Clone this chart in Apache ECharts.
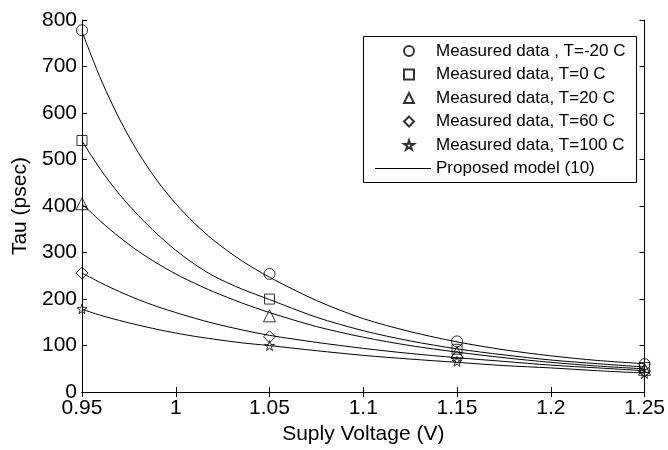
<!DOCTYPE html>
<html>
<head>
<meta charset="utf-8">
<script src="https://cdn.jsdelivr.net/npm/echarts@6/dist/echarts.min.js"></script>
<style>html,body{margin:0;padding:0;background:#fff;}#c{width:668px;height:450px;}</style>
</head>
<body>
<div id="c"></div>
<script>
// Measured data
const measV = [0.95, 1.05, 1.15, 1.25];
const measM20 = [778, 254, 109, 60];
const meas0 = [541, 200, 92, 53];
const meas20 = [405, 164, 85, 49];
const meas60 = [256, 119, 75, 45];
const meas100 = [179, 100, 66, 40];
// Proposed model curves
const modelV = [0.95, 0.96, 0.97, 0.98, 0.99, 1.0, 1.01, 1.02, 1.035, 1.05, 1.075, 1.1, 1.125, 1.15, 1.175, 1.2, 1.225, 1.25];
const modelM20 = [775, 673, 587, 515, 455, 405, 363, 327, 283, 247, 197, 158, 130, 108, 91, 78, 68, 61];
const model0 = [540, 478, 425, 380, 340, 305, 275, 250, 222, 199, 161, 132, 110, 93, 80, 69, 61, 54];
const model20 = [405, 367, 333, 303, 277, 254, 234, 216, 192, 171, 141, 118, 100, 86, 74, 64, 56, 50];
const model60 = [256, 235, 216, 199, 184, 171, 159, 148, 134, 122, 107, 94, 83, 74, 66, 58, 52, 46];
const model100 = [178, 165, 154, 144, 135, 127, 120, 114, 106, 100, 89, 79, 71, 64, 57, 52, 46, 41];
const measNames = ['Measured data , T=-20 C', 'Measured data, T=0 C', 'Measured data, T=20 C', 'Measured data, T=60 C', 'Measured data, T=100 C'];
const modelName = 'Proposed model (10)';

const FONT = 'Liberation Sans, Arial, sans-serif';
const starPath = 'path://M50,0 L61,35 L98,35 L68,57 L79,91 L50,70 L21,91 L32,57 L2,35 L39,35 Z';
const zip = (xs, ys) => xs.map((x, i) => [x, ys[i]]);
const mk = { color: 'rgba(255,255,255,0)', borderColor: '#000', borderWidth: 1 };

function scatter(name, ys, symbol, size) {
  return { name, type: 'scatter', data: zip(measV, ys), symbol, symbolSize: size, itemStyle: mk, z: 5 };
}
function model(ys) {
  return { name: modelName, type: 'line', data: zip(modelV, ys), smooth: 0.3, symbol: 'none', showSymbol: false,
    lineStyle: { color: '#000', width: 1 }, itemStyle: { color: '#000' }, z: 3 };
}
const axisCommon = {
  axisLine: { show: true, lineStyle: { color: '#000', width: 1 } },
  axisTick: { show: true, inside: true, length: 5, lineStyle: { color: '#000' } },
  splitLine: { show: false }
};
const legText = { fontFamily: FONT, fontSize: 17, color: '#000', lineHeight: 18 };
const chart = echarts.init(document.getElementById('c'));
chart.setOption({
  animation: false,
  backgroundColor: '#fff',
  grid: { left: 82, right: 22, top: 20, bottom: 54 },
  graphic: [{
    type: 'rect', left: 363, top: 36, z: 50,
    shape: { width: 273, height: 146 },
    style: { fill: '#fff', stroke: '#000', lineWidth: 1 }
  }],
  xAxis: [
    Object.assign({ type: 'value', min: 0.95, max: 1.25, interval: 0.05, position: 'bottom',
      name: 'Suply Voltage (V)', nameLocation: 'middle', nameGap: 31,
      nameTextStyle: { fontFamily: FONT, fontSize: 21, color: '#000' },
      axisLabel: { fontFamily: FONT, fontSize: 21, color: '#000', margin: 6, formatter: v => String(+v.toFixed(2)) } }, axisCommon),
    Object.assign({ type: 'value', min: 0.95, max: 1.25, interval: 0.05, position: 'top', axisLabel: { show: false } }, axisCommon)
  ],
  yAxis: [
    Object.assign({ type: 'value', min: 0, max: 800, interval: 100, position: 'left',
      name: 'Tau (psec)', nameLocation: 'middle', nameGap: 49,
      nameTextStyle: { fontFamily: FONT, fontSize: 21, color: '#000' },
      axisLabel: { fontFamily: FONT, fontSize: 21, color: '#000', margin: 5 } }, axisCommon),
    Object.assign({ type: 'value', min: 0, max: 800, interval: 100, position: 'right', axisLabel: { show: false } }, axisCommon)
  ],
  legend: [{
    orient: 'vertical', left: 403, top: 42, data: measNames, z: 60,
    padding: 0, itemGap: 5.5, itemWidth: 10, itemHeight: 10,
    textStyle: Object.assign({ padding: [0, 0, 0, 17] }, legText),
    selectedMode: false
  }, {
    orient: 'vertical', left: 375, top: 159.5, z: 60,
    data: [{ name: modelName, icon: 'rect', itemStyle: { color: '#000', borderWidth: 0 } }],
    padding: 0, itemWidth: 56, itemHeight: 1,
    textStyle: legText,
    selectedMode: false
  }],
  series: [
    model(modelM20), model(model0), model(model20), model(model60), model(model100),
    scatter(measNames[0], measM20, 'circle', 11),
    scatter(measNames[1], meas0, 'rect', 10),
    scatter(measNames[2], meas20, 'triangle', 12),
    scatter(measNames[3], meas60, 'diamond', 12),
    scatter(measNames[4], meas100, starPath, 10)
  ]
});
</script>
</body>
</html>
